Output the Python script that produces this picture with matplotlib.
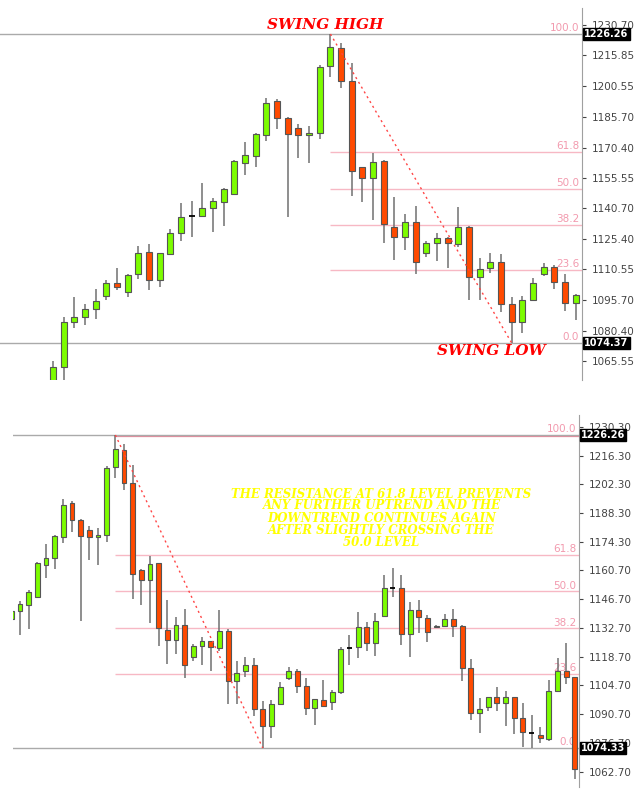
import matplotlib
matplotlib.use("Agg")
import matplotlib.pyplot as plt
import matplotlib.transforms as mtransforms

# daily bars (top window = bars 0..49, bottom = 14..79)
opens = [1052.0, 1062.8, 1084.9, 1087.4, 1091.0, 1097.5, 1104.1, 1099.3, 1108.3, 1119.0,
         1105.4, 1118.2, 1128.6, 1136.8, 1136.8, 1140.6, 1143.9, 1147.7, 1163.0, 1166.5,
         1176.6, 1193.4, 1184.8, 1180.3, 1176.6, 1177.8, 1210.7, 1219.2, 1203.2, 1160.8,
         1155.7, 1163.9, 1131.6, 1126.7, 1134.1, 1118.5, 1123.7, 1126.2, 1123.1, 1131.3,
         1107.0, 1111.5, 1114.4, 1093.4, 1084.9, 1095.6, 1108.2, 1111.6, 1104.6, 1093.9,
         1097.6, 1096.8, 1101.7, 1123.0, 1123.5, 1132.9, 1125.1, 1138.4, 1152.2, 1151.8,
         1129.5, 1141.3, 1137.3, 1132.9, 1133.7, 1136.9, 1133.7, 1113.3, 1091.5, 1094.1,
         1098.9, 1096.0, 1098.9, 1089.0, 1081.8, 1080.6, 1078.7, 1102.0, 1111.9, 1108.6]
highs = [1065.6, 1087.0, 1097.2, 1093.6, 1100.8, 1105.4, 1111.5, 1108.2, 1122.1, 1122.9,
         1118.8, 1130.3, 1143.1, 1144.2, 1153.2, 1145.5, 1150.8, 1164.4, 1173.4, 1177.5,
         1195.0, 1194.3, 1185.3, 1182.1, 1181.1, 1211.0, 1226.26, 1221.7, 1211.9, 1161.0,
         1167.6, 1164.2, 1146.3, 1137.7, 1141.8, 1124.7, 1128.3, 1126.5, 1141.1, 1131.9,
         1116.4, 1118.5, 1118.0, 1097.2, 1097.7, 1106.2, 1113.6, 1112.8, 1108.3, 1098.3,
         1107.3, 1102.5, 1123.5, 1129.2, 1140.5, 1135.6, 1139.7, 1158.3, 1161.5, 1158.3,
         1145.3, 1146.2, 1138.9, 1134.0, 1139.2, 1141.6, 1133.9, 1117.4, 1098.4, 1099.3,
         1104.1, 1102.1, 1099.2, 1096.0, 1090.3, 1084.7, 1107.3, 1118.2, 1125.1, 1108.8]
lows = [1048.0, 1055.0, 1081.6, 1083.3, 1086.1, 1095.5, 1100.5, 1097.2, 1105.7, 1100.5,
        1102.1, 1118.0, 1124.7, 1126.7, 1136.2, 1129.1, 1131.9, 1147.5, 1157.0, 1161.1,
        1173.9, 1179.4, 1136.2, 1165.5, 1163.0, 1174.5, 1205.3, 1199.6, 1146.7, 1143.6,
        1134.9, 1123.7, 1115.2, 1120.1, 1108.3, 1116.5, 1114.7, 1111.5, 1121.4, 1095.6,
        1095.6, 1109.0, 1089.8, 1074.37, 1079.2, 1095.4, 1107.4, 1101.0, 1090.3, 1085.7,
        1094.4, 1092.8, 1100.5, 1114.6, 1117.8, 1121.6, 1119.0, 1137.8, 1147.8, 1124.3,
        1118.3, 1130.3, 1126.0, 1132.4, 1133.2, 1128.4, 1106.8, 1087.9, 1081.4, 1092.4,
        1092.4, 1085.0, 1080.9, 1074.6, 1074.5, 1076.6, 1077.9, 1101.8, 1105.4, 1059.1]
closes = [1062.8, 1084.9, 1087.0, 1091.0, 1095.1, 1104.1, 1102.1, 1107.8, 1118.5, 1105.4,
          1118.5, 1128.3, 1136.5, 1136.8, 1140.6, 1144.2, 1150.1, 1163.9, 1166.7, 1177.0,
          1192.2, 1184.8, 1177.0, 1176.6, 1177.5, 1210.2, 1219.7, 1203.2, 1159.0, 1155.7,
          1163.5, 1132.7, 1126.7, 1134.1, 1114.4, 1123.7, 1126.2, 1123.4, 1131.3, 1107.0,
          1110.6, 1114.4, 1093.4, 1084.9, 1095.6, 1104.1, 1111.6, 1104.6, 1093.9, 1098.0,
          1094.7, 1101.7, 1122.2, 1123.0, 1132.9, 1125.1, 1136.0, 1151.8, 1152.2, 1129.5,
          1141.3, 1137.8, 1130.8, 1133.7, 1136.9, 1133.5, 1113.3, 1091.5, 1093.1, 1098.9,
          1096.0, 1098.9, 1089.0, 1082.3, 1081.8, 1079.0, 1102.0, 1111.9, 1108.6, 1064.1]

swing_high_bar = 26
swing_low_bar = 43
swing_high = 1226.26
swing_low_top = 1074.37
swing_low_bottom = 1074.33
fib_levels = [61.8, 50.0, 38.2, 23.6]

top_ticks = [1230.70, 1215.85, 1200.55, 1185.70, 1170.40, 1155.55, 1140.70,
             1125.40, 1110.55, 1095.70, 1080.40, 1065.55]
bottom_ticks = [1230.30, 1216.30, 1202.30, 1188.30, 1174.30, 1160.70, 1146.70,
                1132.70, 1118.70, 1104.70, 1090.70, 1076.70, 1062.70]

bottom_note = ["THE RESISTANCE AT 61.8 LEVEL PREVENTS",
               "ANY FURTHER UPTREND AND THE",
               "DOWNTREND CONTINUES AGAIN",
               "AFTER SLIGHTLY CROSSING THE",
               "50.0 LEVEL"]

GREEN = "#7cfc00"
RED = "#ff4a00"
PINK = "#f7b8c4"
PINK_TEXT = "#f29aae"


def draw_candles(ax, first, last):
    for i in range(first, last + 1):
        o, h, l, c = opens[i], highs[i], lows[i], closes[i]
        ax.vlines(i, l, h, color="#707070", lw=1.1, zorder=3)
        if c == o:
            ax.hlines(c, i - 0.28, i + 0.28, color="black", lw=1.3, zorder=4)
            continue
        face = GREEN if c > o else RED
        ax.bar(i, abs(c - o), bottom=min(o, c), width=0.56, color=face,
               edgecolor="#555555", linewidth=0.8, zorder=4)


def setup_axis(ax, ticks):
    for side in ["top", "left", "bottom"]:
        ax.spines[side].set_visible(False)
    ax.spines["right"].set_color("#a0a0a0")
    ax.set_xticks([])
    ax.yaxis.tick_right()
    ax.set_yticks(ticks)
    ax.set_yticklabels(["%.2f" % t for t in ticks])
    ax.tick_params(axis="y", direction="out", length=3, width=0.8, pad=4,
                   labelsize=7.5, colors="#444444")


def price_box(ax, price):
    trans = mtransforms.blended_transform_factory(ax.transAxes, ax.transData)
    ax.annotate("%.2f" % price, xy=(1, price), xycoords=trans,
                xytext=(1.5, 0), textcoords="offset points",
                ha="left", va="center", fontsize=7, color="white", weight="bold",
                bbox=dict(boxstyle="square,pad=0.12", fc="black", ec="black"),
                annotation_clip=False, zorder=10)


def fib_label(ax, text, price):
    trans = mtransforms.blended_transform_factory(ax.transAxes, ax.transData)
    ax.annotate(text, xy=(1, price), xycoords=trans, xytext=(-2, 0.5),
                textcoords="offset points", ha="right", va="bottom",
                fontsize=7.5, color=PINK_TEXT, zorder=1)


def draw_fib(ax, low, xmax, pink_top=False):
    for lev in fib_levels:
        p = low + lev / 100.0 * (swing_high - low)
        ax.hlines(p, swing_high_bar, xmax, color=PINK, lw=1, zorder=1)
        fib_label(ax, "%.1f" % lev, p)
    fib_label(ax, "100.0", swing_high)
    fib_label(ax, "0.0", low)
    ax.plot([swing_high_bar, swing_low_bar], [swing_high, low], color="#ff4444",
            lw=1, ls=(0, (1.5, 2.5)), zorder=5)
    if pink_top:
        # second (pink) line just under the grey swing-high line
        shift = mtransforms.ScaledTranslation(0, -1.0 / 72, ax.figure.dpi_scale_trans)
        ax.hlines(swing_high, swing_high_bar, xmax, color="#e88a9c", lw=0.9,
                  zorder=2, transform=ax.transData + shift)


fig = plt.figure(figsize=(6.36, 8.0), dpi=100)

# ---- top window
ax1 = fig.add_axes([0.0, 0.525, 0.9151, 0.465])
x1 = (-4.97, 49.58)
ax1.set_xlim(x1)
ax1.set_ylim(1056.25, 1239.05)
setup_axis(ax1, top_ticks)
ax1.axhline(swing_high, color="#aaaaaa", lw=1, zorder=2)
ax1.axhline(swing_low_top, color="#aaaaaa", lw=1, zorder=2)
draw_fib(ax1, swing_low_top, x1[1])
draw_candles(ax1, 0, 49)
price_box(ax1, swing_high)
price_box(ax1, swing_low_top)

# ---- bottom window (scrolled forward, slightly zoomed out)
ax2 = fig.add_axes([0.0204, 0.01625, 0.8899, 0.465])
x2 = (14.19, 79.47)
ax2.set_xlim(x2)
ax2.set_ylim(1055.39, 1235.97)
setup_axis(ax2, bottom_ticks)
ax2.axhline(swing_high, color="#aaaaaa", lw=1, zorder=3)
ax2.axhline(swing_low_bottom, color="#aaaaaa", lw=1, zorder=2)
draw_fib(ax2, swing_low_bottom, x2[1], pink_top=True)
draw_candles(ax2, 14, 79)
price_box(ax2, swing_high)
price_box(ax2, swing_low_bottom)

# ---- annotations
title_font = dict(family="DejaVu Serif", weight="bold", style="italic")
fig.text(325 / 636, 1 - 25 / 800, "SWING HIGH", color="red", fontsize=11,
         ha="center", va="center", **title_font)
fig.text(491 / 636, 1 - 351 / 800, "SWING LOW", color="red", fontsize=11,
         ha="center", va="center", **title_font)
for k, line in enumerate(bottom_note):
    fig.text(381.5 / 636, 1 - (494 + 12 * k) / 800, line, color="#ffff00",
             fontsize=8.5, ha="center", va="center", **title_font)

fig.savefig("out.png", dpi=100, facecolor="white")
